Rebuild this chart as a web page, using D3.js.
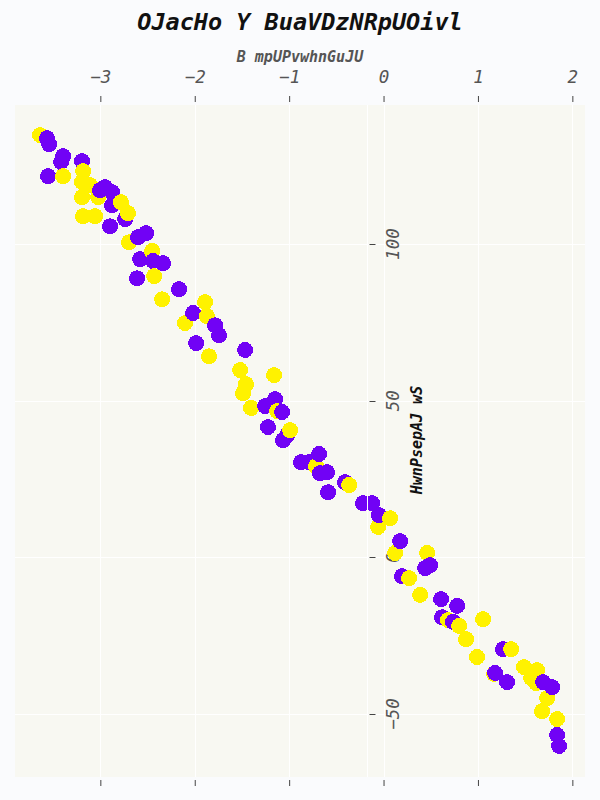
<!DOCTYPE html>
<html>
<head>
<meta charset="utf-8">
<script src="https://cdn.jsdelivr.net/npm/d3@7"></script>
<style>
  html, body { margin: 0; padding: 0; background: #fafbfd; }
  svg { display: block; }
</style>
</head>
<body>
<script>
// ---- data ----
const chartTitle = "OJacHo Y BuaVDzNRpUOivl";
const xLabel = "B mpUPvwhnGuJU";
const yLabel = "HwnPsepAJ wS";
const xTicks = [-3, -2, -1, 0, 1, 2];
const yTicks = [-50, 0, 50, 100];
const seriesNames = ["purple", "yellow"];
const seriesColors = ["#7102f5", "#fff200"];

const purpleX = [-3.565,-3.543,-3.395,-3.416,-3.194,-3.554,-2.950,-3.003,-2.876,-2.876,-2.738,-2.897,-2.516,-2.601,-2.579,-2.442,-2.336,-2.611,-2.166,-2.018,-1.785,-1.743,-1.986,-1.467,-1.149,-1.255,-1.075,-1.224,-1.022,-1.065,-0.874,-0.789,-0.683,-0.599,-0.673,-0.408,-0.588,-0.217,-0.122,-0.048,0.175,0.493,0.440,0.196,0.609,0.779,0.620,0.736,1.266,1.181,1.308,1.690,1.785,1.838,1.859];
const purpleY = [133.8,131.9,128.1,126.2,126.5,121.7,118.2,117.2,116.6,112.4,108.0,105.7,103.5,102.2,95.2,94.6,93.9,89.1,85.6,78.0,74.1,70.9,68.4,66.2,50.5,48.3,46.4,41.6,39.0,37.4,30.4,30.4,33.0,27.2,26.9,24.0,20.8,17.3,17.3,13.5,5.2,-2.5,-3.4,-6.0,-13.3,-15.5,-19.1,-20.6,-29.3,-36.9,-39.8,-39.8,-41.4,-56.7,-60.2];

const yellowX = [-3.639,-3.395,-3.183,-3.194,-3.109,-3.194,-3.024,-2.781,-2.707,-3.183,-3.056,-2.696,-2.452,-2.431,-2.346,-1.891,-1.870,-2.103,-1.849,-1.520,-1.160,-1.457,-1.488,-1.404,-1.128,-0.990,-0.715,-0.365,0.069,-0.058,0.122,0.461,0.270,0.387,0.683,0.800,1.054,0.874,0.990,1.351,1.171,1.488,1.626,1.563,1.615,1.732,1.679,1.838];
const yellowY = [134.8,121.7,123.3,119.8,118.8,115.0,115.0,113.4,109.9,108.9,108.9,100.6,97.8,89.8,82.4,81.5,77.0,74.8,64.2,59.8,58.2,55.3,52.4,47.7,46.7,40.6,29.1,23.1,12.5,9.7,1.4,1.4,-6.6,-12.0,-20.0,-21.9,-19.7,-26.1,-31.8,-29.3,-37.2,-35.0,-36.0,-38.5,-40.1,-44.9,-49.1,-51.6];

// ---- layout ----
const W = 600, H = 800;
const plot = { left: 15, right: 585, top: 105, bottom: 777 };
const mono = "'DejaVu Sans Mono', monospace";

const svg = d3.select("body").append("svg").attr("width", W).attr("height", H);
svg.append("rect").attr("width", W).attr("height", H).attr("fill", "#fafbfd");

const x = d3.scaleLinear().domain([-3.904, 2.134]).range([plot.left, plot.right]);
const y = d3.scaleLinear().domain([-70.1, 144.4]).range([plot.bottom, plot.top]);

svg.append("rect")
  .attr("x", plot.left).attr("y", plot.top)
  .attr("width", plot.right - plot.left).attr("height", plot.bottom - plot.top)
  .attr("fill", "#f8f8f2");

// grid
const grid = svg.append("g").attr("stroke", "#ffffff").attr("stroke-width", 1);
grid.selectAll("line.vx").data(xTicks).join("line")
  .attr("x1", d => Math.round(x(d)) + 0.5).attr("x2", d => Math.round(x(d)) + 0.5)
  .attr("y1", plot.top).attr("y2", plot.bottom);
grid.selectAll("line.hy").data(yTicks).join("line")
  .attr("x1", plot.left).attr("x2", plot.right)
  .attr("y1", d => Math.round(y(d)) + 0.5).attr("y2", d => Math.round(y(d)) + 0.5);

// title
svg.append("text").attr("x", 300).attr("y", 30).attr("text-anchor", "middle")
  .attr("font-family", mono).attr("font-size", 23.5).attr("font-weight", "bold")
  .attr("font-style", "italic").attr("fill", "#111").text(chartTitle);

// x label
svg.append("text").attr("x", 300).attr("y", 62).attr("text-anchor", "middle")
  .attr("font-family", mono).attr("font-size", 15).attr("font-weight", "bold")
  .attr("font-style", "italic").attr("fill", "#555").text(xLabel);

// top axis
const topAxis = svg.append("g").attr("transform", `translate(0,${plot.top - 3})`)
  .call(d3.axisTop(x).tickValues(xTicks).tickSize(6).tickPadding(13).tickFormat(d3.format("d")));
topAxis.select(".domain").remove();
topAxis.selectAll(".tick line").attr("stroke", "#444");
topAxis.selectAll(".tick text").attr("font-family", mono).attr("font-size", 17.5)
  .attr("font-style", "italic").attr("fill", "#555");

// bottom axis (ticks only)
const botAxis = svg.append("g").attr("transform", `translate(0,${plot.bottom + 3})`)
  .call(d3.axisBottom(x).tickValues(xTicks).tickSize(6).tickFormat(""));
botAxis.select(".domain").remove();
botAxis.selectAll(".tick line").attr("stroke", "#444");

// y axis (at x = -0.17)
const yAxisX = x(-0.17);
const yAxisG = svg.append("g").attr("transform", `translate(${yAxisX},0)`);
yAxisG.selectAll("line.yt").data(yTicks).join("line")
  .attr("x1", 2).attr("x2", 8)
  .attr("y1", d => Math.round(y(d)) + 0.5).attr("y2", d => Math.round(y(d)) + 0.5)
  .attr("stroke", "#444");
yAxisG.selectAll("text.yt").data(yTicks).join("text")
  .attr("transform", d => `translate(32,${y(d)}) rotate(-90)`)
  .attr("text-anchor", "middle")
  .attr("font-family", mono).attr("font-size", 17.5).attr("font-style", "italic")
  .attr("fill", "#555")
  .text(d => d3.format("d")(d));

// y label
svg.append("text").attr("transform", `translate(422,440) rotate(-90)`)
  .attr("text-anchor", "middle")
  .attr("font-family", mono).attr("font-size", 15).attr("font-weight", "bold")
  .attr("font-style", "italic").attr("fill", "#111").text(yLabel);

// points
const pts = [];
purpleX.forEach((v, i) => pts.push({ x: v, y: purpleY[i], s: 0 }));
yellowX.forEach((v, i) => pts.push({ x: v, y: yellowY[i], s: 1 }));
pts.sort((a, b) => a.x - b.x);

svg.append("g").selectAll("circle").data(pts).join("circle")
  .attr("cx", d => x(d.x)).attr("cy", d => y(d.y)).attr("r", 8)
  .attr("fill", d => seriesColors[d.s])
  .attr("shape-rendering", "crispEdges");

// y axis domain line (white, on top)
svg.append("line")
  .attr("x1", Math.round(yAxisX) + 0.5).attr("x2", Math.round(yAxisX) + 0.5)
  .attr("y1", plot.top).attr("y2", plot.bottom)
  .attr("stroke", "#ffffff").attr("stroke-width", 1);
</script>
</body>
</html>
